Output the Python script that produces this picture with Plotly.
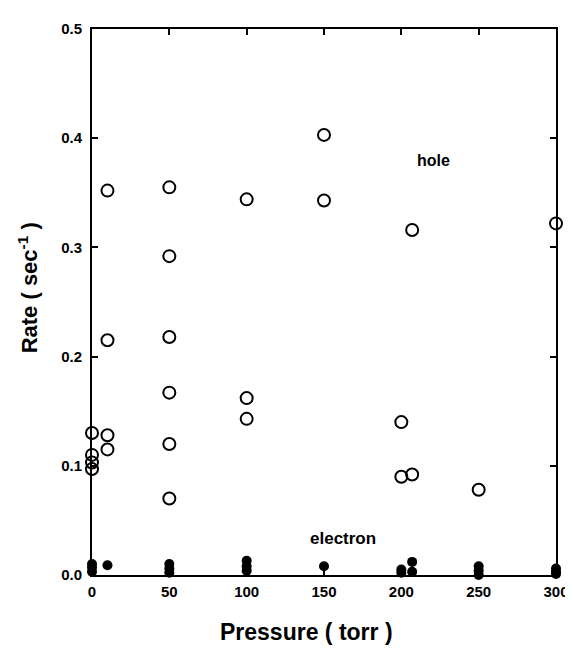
import plotly.graph_objects as go

# Hole rates (open circles)
hole_pressure = [0, 0, 0, 0, 10, 10, 10, 10, 50, 50, 50, 50, 50, 50,
                 100, 100, 100, 150, 150, 200, 200, 207, 207, 250, 300]
hole_rate = [0.130, 0.110, 0.103, 0.097, 0.352, 0.215, 0.128, 0.115,
             0.355, 0.292, 0.218, 0.167, 0.120, 0.070,
             0.344, 0.162, 0.143, 0.403, 0.343, 0.140, 0.090, 0.316, 0.092,
             0.078, 0.322]

# Electron rates (filled circles)
electron_pressure = [0, 0, 0, 10, 50, 50, 50, 100, 100, 100, 150,
                     200, 200, 207, 207, 250, 250, 250, 250, 300, 300, 300]
electron_rate = [0.010, 0.007, 0.003, 0.009, 0.010, 0.006, 0.002,
                 0.013, 0.008, 0.004, 0.008, 0.005, 0.002, 0.012, 0.003,
                 0.008, 0.004, 0.000, -0.006, 0.006, 0.003, 0.001]
# lower error bars (stems) on electron points
electron_err_minus = [0, 0, 0, 0, 0, 0, 0.002, 0, 0, 0.004, 0.008,
                      0, 0, 0, 0.003, 0, 0, 0, 0, 0, 0, 0.001]

x_ticks = [0, 50, 100, 150, 200, 250, 300]
x_tick_labels = ["0", "50", "100", "150", "200", "250", "300"]
y_ticks = [0.0, 0.1, 0.2, 0.3, 0.4, 0.5]
y_tick_labels = ["0.0", "0.1", "0.2", "0.3", "0.4", "0.5"]

FONT = "Liberation Sans"

fig = go.Figure()
fig.add_trace(go.Scatter(
    x=hole_pressure, y=hole_rate, mode="markers", name="hole",
    marker=dict(symbol="circle-open", size=12, color="black",
                line=dict(width=2, color="black")),
    cliponaxis=False))
fig.add_trace(go.Scatter(
    x=electron_pressure, y=electron_rate, mode="markers", name="electron",
    marker=dict(symbol="circle", size=10, color="black"),
    error_y=dict(type="data", symmetric=False, array=[0] * len(electron_rate),
                 arrayminus=electron_err_minus, width=0, thickness=1.5,
                 color="black"),
    cliponaxis=False))

fig.add_annotation(x=221, y=0.38, text="<b>hole</b>", showarrow=False,
                   font=dict(size=16, color="black", family=FONT))
fig.add_annotation(x=162, y=0.033, text="<b>electron</b>", showarrow=False,
                   font=dict(size=17, color="black", family=FONT))

# axis titles
fig.add_annotation(xref="paper", yref="paper", x=0, y=0.525, xshift=-64,
                   xanchor="center", yanchor="middle", textangle=-90,
                   text="<b>Rate ( sec<sup>-1</sup> )</b>", showarrow=False,
                   font=dict(size=22, color="black", family=FONT))
fig.add_annotation(xref="paper", yref="paper", x=0.4615, y=-0.105,
                   xanchor="center", yanchor="middle",
                   text="<b>Pressure ( torr )</b>", showarrow=False,
                   font=dict(size=23, color="black", family=FONT))

axis_common = dict(showline=True, linewidth=2, linecolor="black", mirror="ticks",
                   ticks="inside", ticklen=6, tickwidth=1.5, tickcolor="black",
                   showgrid=False, zeroline=False,
                   tickfont=dict(size=15, color="black", family=FONT))

fig.update_xaxes(range=[0, 300], tickvals=x_ticks,
                 ticktext=["<b>%s</b>" % t for t in x_tick_labels],
                 ticklabelstandoff=2, **axis_common)
fig.update_yaxes(range=[0, 0.5], tickvals=y_ticks,
                 ticktext=["<b>%s</b>" % t for t in y_tick_labels],
                 ticklabelstandoff=5, **axis_common)

fig.update_layout(width=573, height=648, showlegend=False,
                  margin=dict(l=84, r=21, t=13, b=81),
                  plot_bgcolor="white", paper_bgcolor="white",
                  font=dict(family=FONT, color="black"))

fig.write_html("out.html")
